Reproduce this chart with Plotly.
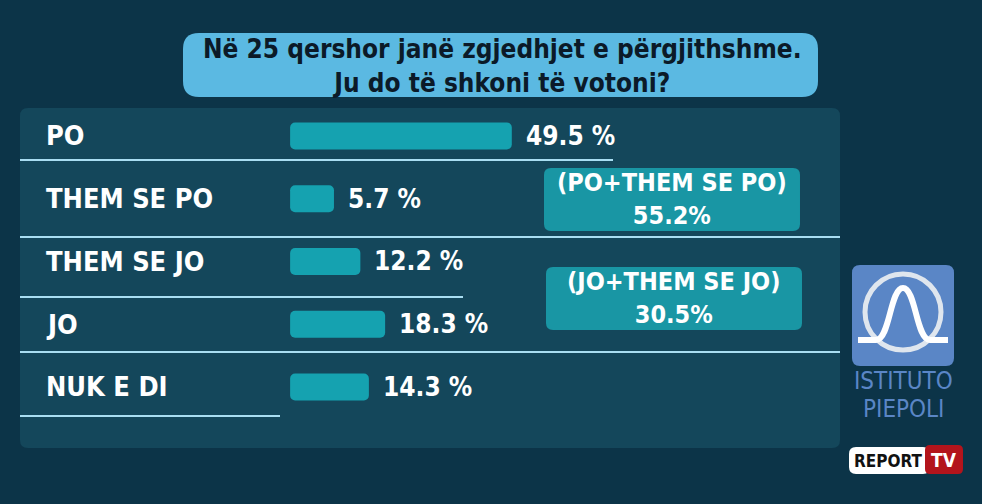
import plotly.graph_objects as go

# ---- data ----
categories = ["PO", "THEM SE PO", "THEM SE JO", "JO", "NUK E DI"]
values = [49.5, 5.7, 12.2, 18.3, 14.3]
title_lines = ["Në 25 qershor janë zgjedhjet e përgjithshme.", "Ju do të shkoni të votoni?"]
group_yes = ["PO", "THEM SE PO"]
group_no = ["JO", "THEM SE JO"]

W, H = 982, 504
FONT = "DejaVu Sans Condensed"

def px(x):
    return x / W

def py(y):
    return 1 - y / H

def rrect(x0, y0, x1, y1, r):
    p = lambda x, y: f"{px(x):.5f},{py(y):.5f}"
    return (f"M {p(x0+r,y0)} L {p(x1-r,y0)} Q {p(x1,y0)} {p(x1,y0+r)} "
            f"L {p(x1,y1-r)} Q {p(x1,y1)} {p(x1-r,y1)} L {p(x0+r,y1)} "
            f"Q {p(x0,y1)} {p(x0,y1-r)} L {p(x0,y0+r)} Q {p(x0,y0)} {p(x0+r,y0)} Z")

fig = go.Figure()
fig.add_trace(go.Bar(
    y=categories, x=[v + 5.1 for v in values], base=-5.1, orientation="h",
    marker=dict(color="#15a2b0", line=dict(width=0)),
    width=0.43, hoverinfo="skip", showlegend=False,
))

shapes = []
# panel
shapes.append(dict(type="path", xref="paper", yref="paper", path=rrect(20, 108, 840, 448, 8),
                   fillcolor="#14475b", line=dict(width=0), layer="below"))
# title box
shapes.append(dict(type="path", xref="paper", yref="paper", path=rrect(183, 33, 818, 97, 16),
                   fillcolor="#5bb9e2", line=dict(width=0)))
# separator lines
for y, x1 in [(160, 613), (237, 840), (297, 463), (352, 840), (416, 280)]:
    shapes.append(dict(type="line", xref="paper", yref="paper", x0=px(20), x1=px(x1),
                       y0=py(y), y1=py(y), line=dict(color="#a9def2", width=2)))
# summary boxes
shapes.append(dict(type="path", xref="paper", yref="paper", path=rrect(544, 168, 800, 231, 7),
                   fillcolor="#1996a4", line=dict(width=0)))
shapes.append(dict(type="path", xref="paper", yref="paper", path=rrect(546, 267, 802, 330, 7),
                   fillcolor="#1996a4", line=dict(width=0)))
# logo square
shapes.append(dict(type="path", xref="paper", yref="paper", path=rrect(852, 265, 954, 366, 8),
                   fillcolor="#5a86c6", line=dict(width=0)))
shapes.append(dict(type="circle", xref="paper", yref="paper", x0=px(865), x1=px(941),
                   y0=py(350), y1=py(274), line=dict(color="#dfe6ee", width=5)))
bell = (f"M {px(858):.5f},{py(340):.5f} L {px(876):.5f},{py(340):.5f} "
        f"C {px(890):.5f},{py(340):.5f} {px(890):.5f},{py(288):.5f} {px(903):.5f},{py(288):.5f} "
        f"C {px(916):.5f},{py(288):.5f} {px(916):.5f},{py(340):.5f} {px(930):.5f},{py(340):.5f} "
        f"L {px(948):.5f},{py(340):.5f}")
shapes.append(dict(type="path", xref="paper", yref="paper", path=bell,
                   line=dict(color="#ffffff", width=6)))
# Report TV logo
shapes.append(dict(type="path", xref="paper", yref="paper", path=rrect(849, 447, 930, 474, 7),
                   fillcolor="#ffffff", line=dict(width=0)))
shapes.append(dict(type="path", xref="paper", yref="paper", path=rrect(925, 445, 963, 474, 5),
                   fillcolor="#b3141c", line=dict(width=0)))

annotations = []
annotations.append(dict(xref="paper", yref="paper", x=px(502), y=py(66),
                        text="<br>".join(title_lines), showarrow=False,
                        font=dict(family=FONT, size=26, color="#0b1a28", weight="bold"),
                        align="center", xanchor="center", yanchor="middle"))
for c, v in zip(categories, values):
    annotations.append(dict(xref="paper", yref="y", x=px(44), y=c, text=c, showarrow=False,
                            xanchor="left", yanchor="middle",
                            font=dict(family=FONT, size=27, color="#ffffff", weight="bold")))
    annotations.append(dict(xref="x", yref="y", x=v, y=c, text=f"{v:.1f} %", showarrow=False,
                            xanchor="left", yanchor="middle", xshift=12,
                            font=dict(family=FONT, size=26, color="#ffffff", weight="bold")))

vals = dict(zip(categories, values))
yes_sum = sum(vals[k] for k in group_yes)
no_sum = sum(vals[k] for k in group_no)
annotations.append(dict(xref="paper", yref="paper", x=px(672), y=py(199),
                        text=f"(PO+THEM SE PO)<br>{yes_sum:.1f}%", showarrow=False,
                        align="center", xanchor="center", yanchor="middle",
                        font=dict(family=FONT, size=25, color="#ffffff", weight="bold")))
annotations.append(dict(xref="paper", yref="paper", x=px(674), y=py(298),
                        text=f"(JO+THEM SE JO)<br>{no_sum:.1f}%", showarrow=False,
                        align="center", xanchor="center", yanchor="middle",
                        font=dict(family=FONT, size=25, color="#ffffff", weight="bold")))
annotations.append(dict(xref="paper", yref="paper", x=px(903), y=py(381),
                        text="ISTITUTO", showarrow=False, xanchor="center", yanchor="middle",
                        font=dict(family=FONT, size=24, color="#5a86c6")))
annotations.append(dict(xref="paper", yref="paper", x=px(903), y=py(409),
                        text="PIEPOLI", showarrow=False, xanchor="center", yanchor="middle",
                        font=dict(family=FONT, size=24, color="#5a86c6")))
annotations.append(dict(xref="paper", yref="paper", x=px(888), y=py(461),
                        text="REPORT", showarrow=False, xanchor="center", yanchor="middle",
                        font=dict(family=FONT, size=17, color="#111111", weight="bold")))
annotations.append(dict(xref="paper", yref="paper", x=px(944), y=py(460),
                        text="TV", showarrow=False, xanchor="center", yanchor="middle",
                        font=dict(family=FONT, size=19, color="#ffffff", weight="bold")))

fig.update_layout(
    width=W, height=H, margin=dict(l=0, r=0, t=0, b=0),
    paper_bgcolor="#0c3448", plot_bgcolor="rgba(0,0,0,0)",
    xaxis=dict(range=[-76.55, 165.3], visible=False, fixedrange=True),
    yaxis=dict(type="category", categoryorder="array", categoryarray=categories,
               range=[5.865, -2.167], visible=False, fixedrange=True),
    barcornerradius=5,
    shapes=shapes, annotations=annotations,
)

fig.write_html("out.html", config={"displayModeBar": False},
               post_script="document.body.style.margin='0';")
